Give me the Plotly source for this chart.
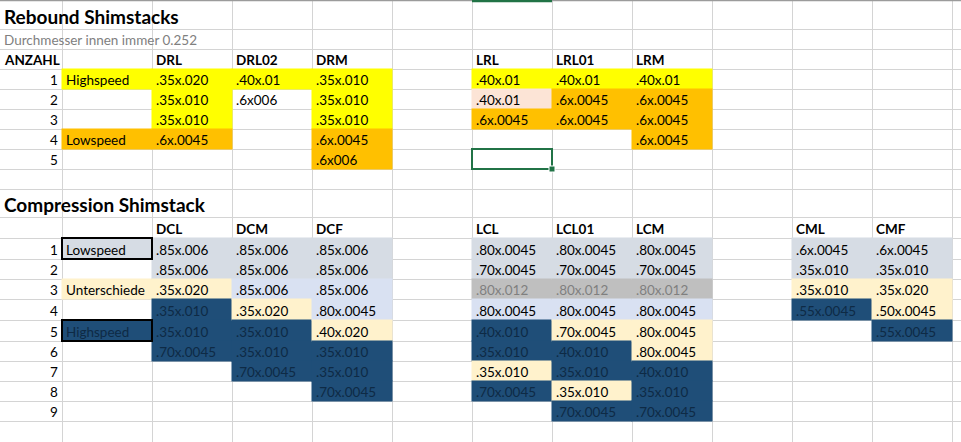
import plotly.graph_objects as go

# ---- sheet data ----
rebound_title = "Rebound Shimstacks"
rebound_note = "Durchmesser innen immer 0.252"
rebound_nr = [1, 2, 3, 4, 5]
rebound_speed = ["Highspeed", "", "", "Lowspeed", ""]
rebound_speed_fill = "Y--O-"
rebound_headers = ["DRL", "DRL02", "DRM", "LRL", "LRL01", "LRM"]
drl = [".35x.020", ".35x.010", ".35x.010", ".6x.0045", ""]
drl02 = [".40x.01", ".6x006", "", "", ""]
drm = [".35x.010", ".35x.010", ".35x.010", ".6x.0045", ".6x006"]
lrl = [".40x.01", ".40x.01", ".6x.0045", "", ""]
lrl01 = [".40x.01", ".6x.0045", ".6x.0045", "", ""]
lrm = [".40x.01", ".6x.0045", ".6x.0045", ".6x.0045", ""]
rebound_fills = ["YYYO-", "Y----", "YYYOO", "YPO--", "YOO--", "YOOO-"]

compression_title = "Compression Shimstack"
compression_nr = [1, 2, 3, 4, 5, 6, 7, 8, 9]
compression_speed = ["Lowspeed", "", "Unterschiede", "", "Highspeed", "", "", "", ""]
compression_speed_fill = "G-B-D----"
compression_headers = ["DCL", "DCM", "DCF", "LCL", "LCL01", "LCM", "CML", "CMF"]
dcl = [".85x.006", ".85x.006", ".35x.020", ".35x.010", ".35x.010", ".70x.0045", "", "", ""]
dcm = [".85x.006", ".85x.006", ".85x.006", ".35x.020", ".35x.010", ".35x.010", ".70x.0045", "", ""]
dcf = [".85x.006", ".85x.006", ".85x.006", ".80x.0045", ".40x.020", ".35x.010", ".35x.010", ".70x.0045", ""]
lcl = [".80x.0045", ".70x.0045", ".80x.012", ".80x.0045", ".40x.010", ".35x.010", ".35x.010", ".70x.0045", ""]
lcl01 = [".80x.0045", ".70x.0045", ".80x.012", ".80x.0045", ".70x.0045", ".40x.010", ".35x.010", ".35x.010", ".70x.0045"]
lcm = [".80x.0045", ".70x.0045", ".80x.012", ".80x.0045", ".80x.0045", ".80x.0045", ".40x.010", ".35x.010", ".70x.0045"]
cml = [".6x.0045", ".35x.010", ".35x.010", ".55x.0045", "", "", "", "", ""]
cmf = [".6x.0045", ".35x.010", ".35x.020", ".50x.0045", ".55x.0045", "", "", "", ""]
compression_fills = ["GGBDDD---", "GGLBDDD--", "GGLLBDDD-", "GGSLDDBD-",
                     "GGSLBDDBD", "GGSLBBDDD", "GGBD-----", "GGBBD----"]

# ---- sheet layout ----
col_edges = [0, 62, 152, 232, 312, 392, 472, 552, 632, 712, 792, 872, 952, 1032]
row_edges = [0, 29, 49, 69, 89, 109, 129, 149, 169, 189, 217, 238, 259, 279,
             299, 320, 341, 361, 381, 401, 421, 441, 461]
letters = "ABCDEFGHIJKLM"
fill_colors = {"Y": "#FFFF00", "O": "#FFC000", "P": "#FCE4D6", "G": "#D6DCE4",
               "L": "#D9E1F2", "B": "#FFF2CC", "D": "#1F4E78", "S": "#BFBFBF"}
text_colors = {"D": "#0E2A45", "S": "#7F7F7F"}
FONT = "Lato, Calibri, sans-serif"
FS = 13.5

shapes = []
annotations = []


def cell_box(col, row):
    c = letters.index(col)
    return col_edges[c], col_edges[c + 1], row_edges[row], row_edges[row + 1]


def put_text(col, row, text, color="#000000", bold=False, size=FS, right=False, dy=1):
    x0, x1, y0, y1 = cell_box(col, row)
    if bold:
        text = "<b>" + text + "</b>"
    annotations.append(dict(x=x1 - 2 if right else x0 + 2, y=(y0 + y1) / 2 + dy,
                            xref="x", yref="y", text=text, showarrow=False,
                            xanchor="right" if right else "left", yanchor="middle",
                            font=dict(family=FONT, size=size, color=color)))


def fill_cell(col, row, code):
    if code == "-":
        return
    x0, x1, y0, y1 = cell_box(col, row)
    shapes.append(dict(type="rect", xref="x", yref="y", x0=x0 - 0.5, x1=x1 + 0.5,
                       y0=y0 - 0.5, y1=y1 + 0.5, fillcolor=fill_colors[code],
                       line=dict(width=0), layer="above"))


def block(first_row, nr, speed, speed_fill, columns):
    for i, n in enumerate(nr):
        put_text("A", first_row + i, str(n), right=True)
        fill_cell("B", first_row + i, speed_fill[i])
    for col, header, values, fills in columns:
        put_text(col, first_row - 1, header, bold=True)
        for i, v in enumerate(values):
            fill_cell(col, first_row + i, fills[i])
    for i, s in enumerate(speed):
        if s:
            put_text("B", first_row + i, s, color=text_colors.get(speed_fill[i], "#000000"))
    for col, header, values, fills in columns:
        for i, v in enumerate(values):
            if v:
                put_text(col, first_row + i, v, color=text_colors.get(fills[i], "#000000"))


# rebound section
put_text("A", 0, rebound_title, bold=True, size=19, dy=1.5)
put_text("A", 1, rebound_note, color="#808080")
put_text("A", 2, "ANZAHL", bold=True)
block(3, rebound_nr, rebound_speed, rebound_speed_fill,
      list(zip("CDEGHI", rebound_headers, [drl, drl02, drm, lrl, lrl01, lrm], rebound_fills)))

# compression section
put_text("A", 9, compression_title, bold=True, size=19, dy=1.5)
block(11, compression_nr, compression_speed, compression_speed_fill,
      list(zip("CDEGHIKL", compression_headers,
               [dcl, dcm, dcf, lcl, lcl01, lcm, cml, cmf], compression_fills)))

# thick borders around the speed labels
for row in (11, 15):
    x0, x1, y0, y1 = cell_box("B", row)
    shapes.append(dict(type="rect", xref="x", yref="y", x0=x0, x1=x1, y0=y0, y1=y1,
                       line=dict(color="#000000", width=2), layer="above"))

# active cell selection
x0, x1, y0, y1 = cell_box("G", 7)
shapes.append(dict(type="rect", xref="x", yref="y", x0=x0, x1=x1, y0=y0, y1=y1,
                   line=dict(color="#217346", width=2), layer="above"))
shapes.append(dict(type="rect", xref="x", yref="y", x0=x1 - 3, x1=x1 + 3, y0=y1 - 3, y1=y1 + 3,
                   fillcolor="#217346", line=dict(color="#FFFFFF", width=1), layer="above"))

# header border at the top of the sheet
shapes.append(dict(type="line", xref="x", yref="y", x0=0, x1=961, y0=0.5, y1=0.5,
                   line=dict(color="#9B9B9B", width=1.5), layer="above"))
x0, x1, _, _ = cell_box("G", 7)
shapes.append(dict(type="line", xref="x", yref="y", x0=x0, x1=x1, y0=1, y1=1,
                   line=dict(color="#217346", width=2.5), layer="above"))

fig = go.Figure()
fig.update_layout(
    width=961, height=442,
    margin=dict(l=0, r=0, t=0, b=0),
    paper_bgcolor="#FFFFFF", plot_bgcolor="#FFFFFF",
    showlegend=False,
    shapes=shapes, annotations=annotations,
    xaxis=dict(range=[0, 961], tickvals=col_edges, showticklabels=False, ticks="",
               showgrid=True, gridcolor="#D4D4D4", gridwidth=1, zeroline=False,
               fixedrange=True),
    yaxis=dict(range=[442, 0], tickvals=row_edges, showticklabels=False, ticks="",
               showgrid=True, gridcolor="#D4D4D4", gridwidth=1, zeroline=False,
               fixedrange=True),
)
fig.write_html("out.html", config={"displayModeBar": False},
               post_script="document.body.style.margin='0';document.body.style.overflow='hidden';")
